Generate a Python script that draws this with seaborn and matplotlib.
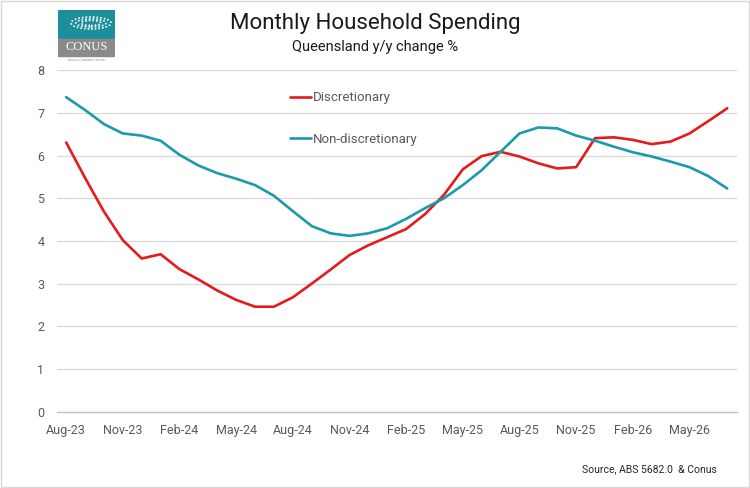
import numpy as np
import pandas as pd
import matplotlib
matplotlib.use("Agg")
import matplotlib.pyplot as plt
import seaborn as sns
from matplotlib.patches import Rectangle, Ellipse

# Data (y/y % change, monthly)
months = pd.date_range("2023-08-01", periods=36, freq="MS").strftime("%b-%y").tolist()
discretionary = [6.31, 5.48, 4.69, 4.02, 3.59, 3.69, 3.34, 3.10, 2.84, 2.62, 2.46, 2.46,
                 2.68, 3.00, 3.33, 3.67, 3.90, 4.09, 4.28, 4.63, 5.08, 5.68, 5.99, 6.09,
                 5.98, 5.82, 5.70, 5.73, 6.41, 6.43, 6.37, 6.27, 6.33, 6.52, 6.81, 7.11]
non_discretionary = [7.37, 7.07, 6.74, 6.52, 6.47, 6.35, 6.02, 5.77, 5.59, 5.46, 5.31, 5.06,
                     4.70, 4.35, 4.18, 4.12, 4.18, 4.30, 4.52, 4.77, 5.00, 5.31, 5.66, 6.09,
                     6.52, 6.66, 6.64, 6.47, 6.35, 6.21, 6.08, 5.98, 5.86, 5.73, 5.52, 5.23]

df = pd.DataFrame({
    "idx": list(range(len(months))) * 2,
    "value": discretionary + non_discretionary,
    "series": ["Discretionary"] * len(months) + ["Non-discretionary"] * len(months),
})

sns.set_theme(style="white")
plt.rcParams["font.family"] = ["Roboto", "DejaVu Sans"]

grey_txt = "#595959"
fig = plt.figure(figsize=(7.5, 4.88), dpi=100)
ax = fig.add_axes([56.7 / 750, 1 - 411.7 / 488, 680 / 750, 341.4 / 488])

sns.lineplot(data=df, x="idx", y="value", hue="series",
             palette={"Discretionary": "#e31b1b", "Non-discretionary": "#1c99ab"},
             linewidth=1.9, ax=ax)

ax.set_xlim(-0.5, len(months) - 0.5)
ax.set_ylim(0, 8)
ax.set_yticks(range(0, 9))
ax.grid(axis="y", color="#d9d9d9", linewidth=0.9)
ax.grid(axis="x", visible=False)
ax.set_xlabel("")
ax.set_ylabel("")

# category labels every 3 months, tick marks between categories
ax.set_xticks(range(0, len(months), 3))
ax.set_xticklabels(months[::3])
ax.set_xticks(np.arange(-0.5, len(months), 3), minor=True)
ax.tick_params(axis="x", which="major", length=0, pad=9, labelsize=9, labelcolor=grey_txt)
ax.tick_params(axis="x", which="minor", length=4, width=0.8, color="#bfbfbf", direction="out")
ax.tick_params(axis="y", length=0, pad=9, labelsize=9, labelcolor=grey_txt)

for s in ["top", "right", "left"]:
    ax.spines[s].set_visible(False)
ax.spines["bottom"].set_color("#bfbfbf")
ax.spines["bottom"].set_linewidth(0.9)

leg = ax.legend(loc="upper left", bbox_to_anchor=(290 / 750, 1 - 91.5 / 488),
                bbox_transform=fig.transFigure, frameon=False, fontsize=9.5,
                labelspacing=2.15, handlelength=1.6, handletextpad=0.15,
                borderpad=0, borderaxespad=0)
for t in leg.get_texts():
    t.set_color(grey_txt)

fig.text(0.5, 1 - 23 / 488, "Monthly Household Spending", ha="center", va="center",
         fontsize=16, color="#1a1a1a")
fig.text(0.5, 1 - 47 / 488, "Queensland y/y change %", ha="center", va="center",
         fontsize=10.5, color="#1a1a1a")
fig.text(717 / 750, 1 - 469 / 488, "Source, ABS 5682.0  & Conus", ha="right", va="center",
         fontsize=7.5, color="#262626")

# logo
lax = fig.add_axes([58 / 750, 1 - 63 / 488, 57 / 750, 53 / 488])
lax.set_xlim(0, 57)
lax.set_ylim(0, 53)
lax.axis("off")
lax.add_patch(Rectangle((0, 25), 57, 28, color="#1d8e9c"))
lax.add_patch(Rectangle((0, 7), 57, 17.5, color="#8a8a8a"))
for w, h in [(40, 12), (30, 8), (20, 5)]:
    lax.add_patch(Ellipse((33, 40), w, h, fill=False, edgecolor="white",
                          linewidth=1.2, linestyle=(0, (1, 1.2))))
lax.text(28.5, 15.5, "CONUS", ha="center", va="center", color="white",
         fontsize=9, family="Liberation Serif")
lax.text(28.5, 3, "Business Consultancy Services", ha="center", va="center",
         color="#8a8a8a", fontsize=2.2, family="Liberation Serif")

fig.patches.append(Rectangle((0.001, 0.002), 0.997, 0.995, transform=fig.transFigure,
                             fill=False, edgecolor="#d9d9d9", linewidth=1))

fig.savefig("out.png", dpi=100)
